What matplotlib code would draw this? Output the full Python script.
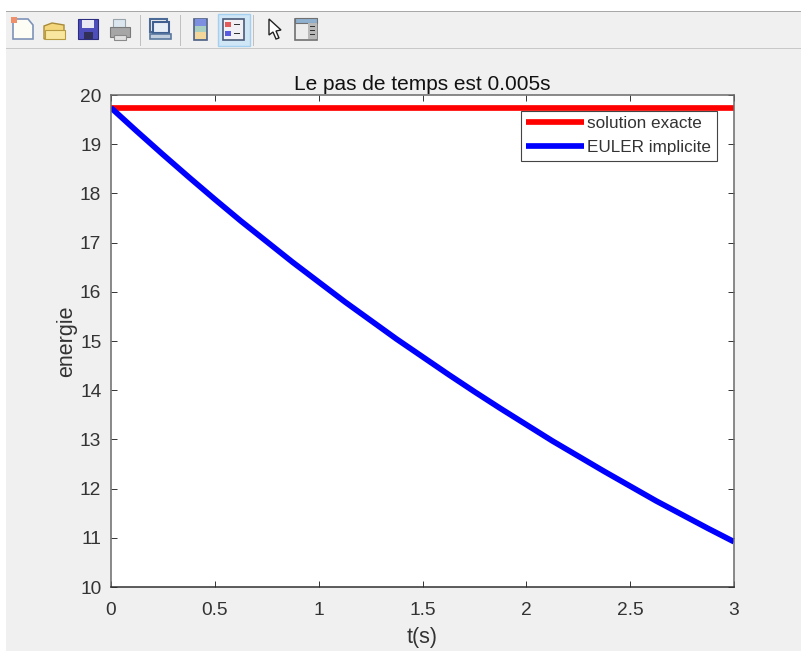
import matplotlib
matplotlib.use("Agg")
import matplotlib.pyplot as plt
from matplotlib.patches import Rectangle, Polygon

W, H = 801, 651
t = [0, 0.125, 0.25, 0.375, 0.5, 0.625, 0.75, 0.875, 1.0, 1.125, 1.25, 1.375, 1.5,
     1.625, 1.75, 1.875, 2.0, 2.125, 2.25, 2.375, 2.5, 2.625, 2.75, 2.875, 3.0]
exact = [19.74] * 25
euler = [19.74, 19.26, 18.79, 18.33, 17.88, 17.44, 17.02, 16.60, 16.20, 15.80, 15.42,
         15.04, 14.68, 14.32, 13.97, 13.63, 13.30, 12.97, 12.66, 12.35, 12.05, 11.75,
         11.47, 11.19, 10.92]
xticks = [0, 0.5, 1, 1.5, 2, 2.5, 3]
xticklabels = ["0", "0.5", "1", "1.5", "2", "2.5", "3"]
yticks = list(range(10, 21))

plt.rcParams["font.family"] = ["Liberation Sans", "DejaVu Sans"]
fig = plt.figure(figsize=(W / 100, H / 100), dpi=100, facecolor="white")


def px_rect(x, y, w, h, **kw):
    fig.add_artist(Rectangle((x / W, 1 - (y + h) / H), w / W, h / H,
                             transform=fig.transFigure, **kw))


def px_poly(pts, **kw):
    fig.add_artist(Polygon([(x / W, 1 - y / H) for x, y in pts],
                           transform=fig.transFigure, **kw))


# window background and toolbar
px_rect(6, 12, 795, 639, fc="#f0f0f0", ec="none")
px_rect(6, 11, 795, 1.3, fc="#a8a8a8", ec="none")
px_rect(6, 48, 795, 1, fc="#c8c8c8", ec="none")
for sx in (139.5, 179.5, 252.5):
    px_rect(sx, 15, 1, 31, fc="#c0c0c0", ec="none")
# new file
px_poly([(13, 19), (28, 19), (33, 25), (33, 39), (13, 39)], fc="#fdfdf5", ec="#7f93b8", lw=1.2)
px_rect(11, 17, 6, 6, fc="#f0906a", ec="none")
# open folder
px_poly([(44, 26), (52, 23), (64, 25), (64, 39), (44, 39)], fc="#f4d77c", ec="#a88a3a", lw=1)
px_rect(45, 30, 20, 9, fc="#f9e7a0", ec="#b89a40", lw=.8)
# save
px_rect(78, 19, 20, 20, fc="#4d4dbb", ec="#2d2d80", lw=.8)
px_rect(82, 20, 12, 8, fc="#e8e8f5", ec="none")
px_rect(84, 32, 9, 7, fc="#30305a", ec="none")
# print
px_rect(113, 19, 12, 9, fc="#dce6ee", ec="#9aa4ac", lw=.8)
px_rect(110, 27, 20, 10, fc="#a6a6a6", ec="#7a7a7a", lw=.8)
px_rect(114, 35, 12, 5, fc="#e0e0e0", ec="#8a8a8a", lw=.8)
# link plot
px_rect(150, 19, 17, 13, fc="#f0f0f0", ec="#4b6a96", lw=1.5)
px_rect(153, 22, 16, 11, fc="#e8eef5", ec="#3f5f90", lw=1.5)
px_rect(150, 34, 21, 5, fc="#c0cede", ec="#59789f", lw=1.2)
# colorbar
px_rect(194, 18.5, 13, 21, fc="#a8cfc0", ec="#4e5f85", lw=1.2)
px_rect(195, 19, 11, 7, fc="#7d8fe0", ec="none")
px_rect(195, 32, 11, 7, fc="#f3d79a", ec="none")
# legend (active)
px_rect(217.5, 14.5, 32, 31, fc="#cfe6f7", ec="#a4d0ef", lw=1)
px_rect(222.5, 18.5, 21, 21, fc="#f0f0f5", ec="#4a5a78", lw=1.2)
px_rect(225, 22, 6, 5, fc="#e05a5a", ec="none")
px_rect(225, 31, 6, 5, fc="#5a5ae0", ec="none")
px_rect(234, 24, 6, 1.3, fc="#333333", ec="none")
px_rect(234, 33, 6, 1.3, fc="#333333", ec="none")
# pointer
px_poly([(269, 19), (269, 35), (273, 32), (276, 39), (279, 38), (276, 31), (281, 30)],
        fc="white", ec="#222222", lw=1)
# property panel
px_rect(295, 18.5, 22, 21, fc="#ececec", ec="#707070", lw=1.2)
px_rect(295, 18.5, 22, 4, fc="#8fb0cf", ec="#707070", lw=.8)
px_rect(308, 23, 9, 16, fc="#b8b8b8", ec="none")
for yy in (26, 30, 34):
    px_rect(310, yy, 5, 1.2, fc="#333333", ec="none")

ax = fig.add_axes([111 / W, 1 - 587 / H, (734 - 111) / W, (587 - 95) / H], facecolor="white")
ax.set_zorder(5)
ax.plot(t, exact, color="#ff0000", lw=4.1, label="solution exacte", solid_capstyle="butt")
ax.plot(t, euler, color="#0000ff", lw=4.1, label="EULER implicite", solid_capstyle="butt")
ax.set_xlim(0, 3)
ax.set_ylim(10, 20)
ax.set_xticks(xticks, xticklabels)
ax.set_yticks(yticks)
ax.tick_params(direction="in", length=4.4, width=0.7, top=True, right=True,
               labelsize=13.8, colors="#333333")
ax.tick_params(axis="y", pad=7)
ax.tick_params(axis="x", pad=11)
for s in ax.spines.values():
    s.set_color("#6a6a6a")
    s.set_linewidth(1.1)
ax.spines["bottom"].set_color("#303030")
ax.set_title("Le pas de temps est 0.005s", fontsize=15, color="#111111", pad=3.5)
ax.set_xlabel("t(s)", fontsize=15.5, color="#333333", labelpad=5.5)
ax.set_ylabel("energie", fontsize=15.5, color="#333333", labelpad=2)
leg = ax.legend(loc="upper left", bbox_to_anchor=((521 - 111) / 623, 1 - (111 - 95) / 492),
                bbox_transform=ax.transAxes, fontsize=12.3, frameon=True, fancybox=False,
                framealpha=1, edgecolor="#444444", borderaxespad=0, borderpad=0.32,
                handlelength=3.35, handletextpad=0.22, labelspacing=0.52)
leg.get_frame().set_linewidth(0.8)
for text in leg.get_texts():
    text.set_color("#333333")
fig.savefig("out.png", dpi=100, facecolor=fig.get_facecolor())
